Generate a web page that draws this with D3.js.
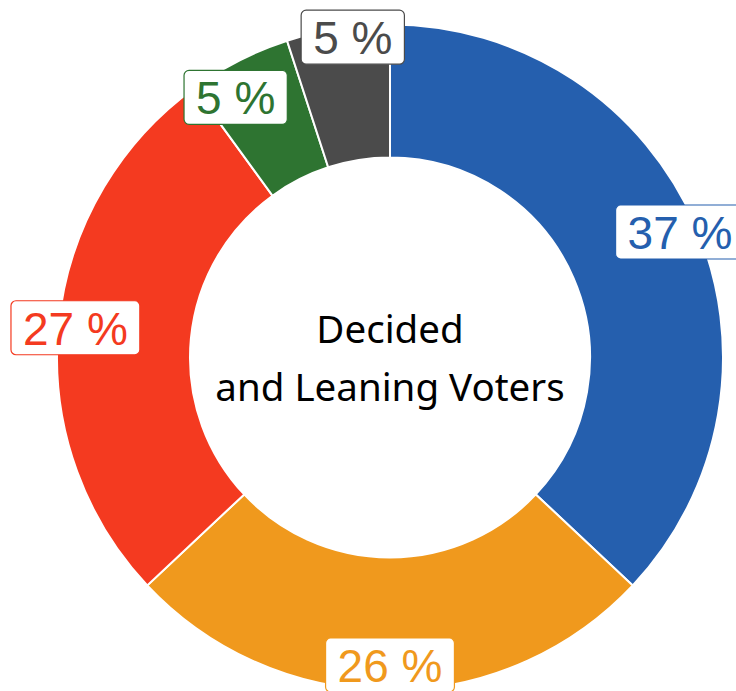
<!DOCTYPE html>
<html lang="en">
<head>
<meta charset="UTF-8">
<title>Decided and Leaning Voters</title>
<script src="https://d3js.org/d3.v7.min.js"></script>
<style>
  html, body { margin: 0; padding: 0; background: #fff; }
  svg { display: block; }
</style>
</head>
<body>
<svg id="chart"></svg>
<script>
// data
const parties = ["A", "B", "C", "D", "E"];
const shares = [37, 26, 27, 5, 5];
const colors = ["#255fae", "#f0991d", "#f43a20", "#2e7431", "#4b4b4b"];
const centerLines = ["Decided", "and Leaning Voters"];

const width = 736, height = 691;
const cx = 390, cy = 357.5;
const outerR = 333, innerR = 200, labelR = 316;

const svg = d3.select("#chart")
    .attr("width", width)
    .attr("height", height);

const g = svg.append("g").attr("transform", `translate(${cx},${cy})`);

const pie = d3.pie().sort(null).value(d => d.value);
const arcs = pie(parties.map((p, i) => ({ name: p, value: shares[i], color: colors[i] })));

const arc = d3.arc().innerRadius(innerR).outerRadius(outerR);

g.selectAll("path.slice")
    .data(arcs)
    .enter()
    .append("path")
    .attr("class", "slice")
    .attr("d", arc)
    .attr("fill", d => d.data.color)
    .attr("stroke", "#fff")
    .attr("stroke-width", 2);

// center title
g.append("text")
    .attr("text-anchor", "middle")
    .attr("font-family", "'Noto Sans', 'Open Sans', sans-serif")
    .attr("font-size", 38.5)
    .attr("fill", "#000")
    .selectAll("tspan")
    .data(centerLines)
    .enter()
    .append("tspan")
    .attr("x", 0)
    .attr("y", (d, i) => -15 + i * 58)
    .text(d => d);

// labels
const fontSize = 46, padX = 12, boxH = 54;
const labels = arcs.map(d => {
    const text = d.data.value + " %";
    return { d, text, angle: (d.startAngle + d.endAngle) / 2, dy: 0 };
});

const labelG = g.selectAll("g.lbl")
    .data(labels)
    .enter()
    .append("g")
    .attr("class", "lbl");

labelG.append("rect")
    .attr("rx", 5)
    .attr("fill", "#fff")
    .attr("stroke", l => l.d.data.color)
    .attr("stroke-width", 1.2);

labelG.append("text")
    .attr("text-anchor", "middle")
    .attr("dominant-baseline", "central")
    .attr("font-family", "'Liberation Sans', Arial, sans-serif")
    .attr("font-size", fontSize)
    .attr("fill", l => l.d.data.color)
    .text(l => l.text);

labelG.each(function(l) {
    l.w = this.querySelector("text").getComputedTextLength() + padX * 2;
    l.h = boxH;
});

function place(l) {
    l.x = labelR * Math.sin(l.angle);
    l.y = -labelR * Math.cos(l.angle) + l.dy;
}
labels.forEach(place);

// push neighbouring labels apart when their boxes overlap
const gap = 24;
for (let iter = 0; iter < 300; iter++) {
    let moved = false;
    for (let i = 0; i < labels.length - 1; i++) {
        const a = labels[i], b = labels[i + 1];
        const ox = (a.w + b.w) / 2 + gap - Math.abs(a.x - b.x);
        const oy = (a.h + b.h) / 2 + 6 - Math.abs(a.y - b.y);
        if (ox > 0 && oy > 0) {
            a.angle -= 0.003;
            b.angle += 0.003;
            const s = a.y > b.y ? 1 : -1;
            a.dy += 1.2 * s;
            b.dy -= 0.5 * s;
            place(a); place(b);
            moved = true;
        }
    }
    if (!moved) break;
}

// keep boxes inside the bottom edge
labels.forEach(l => {
    const maxY = height - cy - l.h / 2 + 1;
    if (l.y > maxY) l.y = maxY;
});

labelG.attr("transform", l => `translate(${l.x},${l.y})`);
labelG.select("rect")
    .attr("x", l => -l.w / 2)
    .attr("y", l => -l.h / 2)
    .attr("width", l => l.w)
    .attr("height", l => l.h);
labelG.select("text").attr("y", 1);
</script>
</body>
</html>
